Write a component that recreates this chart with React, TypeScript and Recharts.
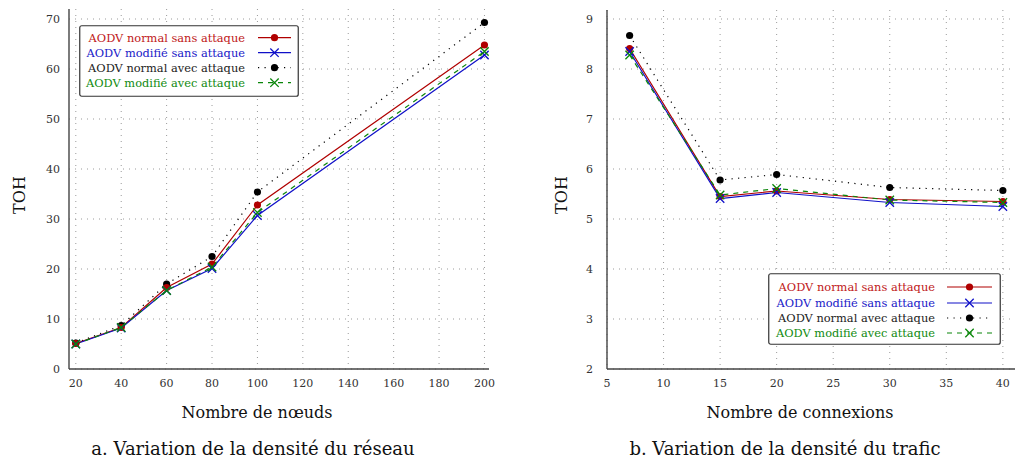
import React from 'react'
import { LineChart, Line, XAxis, YAxis, CartesianGrid, Legend } from 'recharts'

// (a) Variation de la densité du réseau
const nodes = [20, 40, 60, 80, 100, 200]
const normalSansNodes = [5.1, 8.3, 16.3, 21.0, 32.8, 64.8]
const modifieSansNodes = [5.0, 8.2, 15.7, 20.1, 30.7, 62.8]
const normalAvecNodes = [5.2, 8.7, 17.0, 22.5, 35.4, 69.3]
const modifieAvecNodes = [5.0, 8.3, 15.7, 20.4, 31.3, 63.5]

// (b) Variation de la densité du trafic
const connexions = [7, 15, 20, 30, 40]
const normalSansConn = [8.41, 5.45, 5.56, 5.39, 5.35]
const modifieSansConn = [8.35, 5.41, 5.53, 5.33, 5.25]
const normalAvecConn = [8.67, 5.78, 5.89, 5.63, 5.57]
const modifieAvecConn = [8.28, 5.48, 5.61, 5.38, 5.33]

const nodeTicks = [20, 40, 60, 80, 100, 120, 140, 160, 180, 200]
const tohTicksA = [0, 10, 20, 30, 40, 50, 60, 70]
const connTicks = [5, 10, 15, 20, 25, 30, 35, 40]
const tohTicksB = [2, 3, 4, 5, 6, 7, 8, 9]

const RED = '#b00000'
const BLUE = '#1010c8'
const GREEN = '#0a860a'
const BLACK = '#000000'

const SERIES = [
  { key: 'normalAvec', name: 'AODV normal avec attaque', color: BLACK, text: '#222', dash: '1.2 5.3', marker: 'dot' },
  { key: 'normalSans', name: 'AODV normal sans attaque', color: RED, text: '#c01818', dash: undefined, marker: 'dot' },
  { key: 'modifieSans', name: 'AODV modifié sans attaque', color: BLUE, text: '#2020c8', dash: undefined, marker: 'cross' },
  { key: 'modifieAvec', name: 'AODV modifié avec attaque', color: GREEN, text: '#108a10', dash: '5 5', marker: 'cross' },
]
const LEGEND_ORDER = ['normalSans', 'modifieSans', 'normalAvec', 'modifieAvec']

const dataA = nodes.map((x, i) => ({
  x,
  normalSans: normalSansNodes[i],
  modifieSans: modifieSansNodes[i],
  normalAvec: normalAvecNodes[i],
  modifieAvec: modifieAvecNodes[i],
}))

const dataB = connexions.map((x, i) => ({
  x,
  normalSans: normalSansConn[i],
  modifieSans: modifieSansConn[i],
  normalAvec: normalAvecConn[i],
  modifieAvec: modifieAvecConn[i],
}))

const Marker = ({ cx, cy, color, kind }: any) => {
  if (cx == null || cy == null) return null
  if (kind === 'dot') return <circle cx={cx} cy={cy} r={3.6} fill={color} stroke="none" />
  const s = 4.2
  return (
    <path
      d={`M${cx - s},${cy - s}L${cx + s},${cy + s}M${cx - s},${cy + s}L${cx + s},${cy - s}`}
      stroke={color}
      strokeWidth={1.3}
      fill="none"
    />
  )
}

const makeDot = (color: string, kind: string) => (props: any) => (
  <Marker key={`${color}-${props.index}`} cx={props.cx} cy={props.cy} color={color} kind={kind} />
)

const LegendBox = ({ w, h, rows, textRight, lineFrom, lineTo }: any) => {
  const mid = (lineFrom + lineTo) / 2
  return (
    <svg width={w} height={h} style={{ display: 'block', overflow: 'visible' }}>
      <rect x={0.75} y={0.75} width={w - 1.5} height={h - 1.5} rx={2} fill="#fff" stroke="#333" strokeWidth={1.2} />
      {LEGEND_ORDER.map((k, i) => {
        const s = SERIES.find(d => d.key === k)!
        const y = rows[i]
        return (
          <g key={k}>
            <text
              x={textRight}
              y={y + 4}
              textAnchor="end"
              fill={s.text}
              style={{ fontFamily: '"DejaVu Serif", serif', fontSize: 11.4 }}
            >
              {s.name}
            </text>
            <line x1={lineFrom} y1={y} x2={lineTo} y2={y} stroke={s.color} strokeWidth={1.2} strokeDasharray={s.dash} />
            <Marker cx={mid} cy={y} color={s.color} kind={s.marker} />
          </g>
        )
      })}
    </svg>
  )
}

const tickStyle = { fontSize: 11, fill: '#333', fontFamily: '"DejaVu Serif", serif' }
const gridStroke = '#9a9a9a'

const renderLines = () =>
  SERIES.map(s => (
    <Line
      key={s.key}
      dataKey={s.key}
      name={s.name}
      type="linear"
      stroke={s.color}
      strokeWidth={1.2}
      strokeDasharray={s.dash}
      dot={makeDot(s.color, s.marker)}
      activeDot={false}
      isAnimationActive={false}
    />
  ))

const textStyle: React.CSSProperties = {
  position: 'absolute',
  fontFamily: '"DejaVu Serif", serif',
  color: '#111',
  whiteSpace: 'nowrap',
  lineHeight: 1,
  transform: 'translate(-50%, -50%)',
}

export default function App() {
  return (
    <div style={{ position: 'fixed', left: 0, top: 0, width: 1015, height: 462, overflow: 'hidden', background: '#fff' }}>
      <div style={{ position: 'absolute', left: 0, top: 0 }}>
        <LineChart width={500} height={400} data={dataA} margin={{ top: 9, right: 11, bottom: 0, left: 0 }}>
          <CartesianGrid stroke={gridStroke} strokeDasharray="1 5" verticalValues={nodeTicks} horizontalValues={tohTicksA} />
          <XAxis
            type="number"
            dataKey="x"
            domain={[17, 202]}
            ticks={nodeTicks}
            allowDataOverflow
            height={31}
            stroke="#444"
            strokeWidth={1.4}
            tickLine={false}
            tick={tickStyle}
            tickMargin={4}
          />
          <XAxis xAxisId="top" orientation="top" type="number" dataKey="x" domain={[17, 202]} height={0} tick={false} tickLine={false} stroke="#777" strokeWidth={1.4} />
          <YAxis
            type="number"
            domain={[0, 72]}
            ticks={tohTicksA}
            allowDataOverflow
            width={69}
            stroke="#444"
            strokeWidth={1.4}
            tickLine={false}
            tick={tickStyle}
            tickMargin={3}
          />
          <YAxis yAxisId="right" orientation="right" domain={[0, 72]} width={0} tick={false} tickLine={false} stroke="#777" strokeWidth={1.4} />
          {renderLines()}
          <Legend
            layout="vertical"
            align="center"
            verticalAlign="middle"
            wrapperStyle={{ position: 'absolute', left: 79, top: 25, width: 220, height: 72 }}
            content={() => <LegendBox w={220} h={72} rows={[12.7, 27.7, 42.7, 57.7]} textRight={166} lineFrom={179} lineTo={212} />}
          />
        </LineChart>
      </div>

      <div style={{ position: 'absolute', left: 510, top: 0 }}>
        <LineChart width={507} height={400} data={dataB} margin={{ top: 10, right: 0, bottom: 0, left: 0 }}>
          <CartesianGrid stroke={gridStroke} strokeDasharray="1 5" verticalValues={connTicks} horizontalValues={tohTicksB} />
          <XAxis
            type="number"
            dataKey="x"
            domain={[5, 41.25]}
            ticks={connTicks}
            allowDataOverflow
            height={31}
            stroke="#444"
            strokeWidth={1.4}
            tickLine={false}
            tick={tickStyle}
            tickMargin={4}
          />
          <XAxis xAxisId="top" orientation="top" type="number" dataKey="x" domain={[5, 41.25]} height={0} tick={false} tickLine={false} stroke="#777" strokeWidth={1.4} />
          <YAxis
            type="number"
            domain={[2, 9.18]}
            ticks={tohTicksB}
            allowDataOverflow
            width={97}
            stroke="#444"
            strokeWidth={1.4}
            tickLine={false}
            tick={tickStyle}
            tickMargin={8}
          />
          {renderLines()}
          <Legend
            layout="vertical"
            align="center"
            verticalAlign="middle"
            wrapperStyle={{ position: 'absolute', left: 258, top: 273, width: 233, height: 72 }}
            content={() => <LegendBox w={233} h={72} rows={[14, 30, 45, 60]} textRight={167} lineFrom={179} lineTo={224} />}
          />
        </LineChart>
      </div>

      <div style={{ ...textStyle, left: 20, top: 195, fontSize: 16, transform: 'translate(-50%, -50%) rotate(-90deg)' }}>TOH</div>
      <div style={{ ...textStyle, left: 562, top: 195, fontSize: 16, transform: 'translate(-50%, -50%) rotate(-90deg)' }}>TOH</div>
      <div style={{ ...textStyle, left: 257, top: 413, fontSize: 16 }}>Nombre de nœuds</div>
      <div style={{ ...textStyle, left: 800, top: 413, fontSize: 16 }}>Nombre de connexions</div>
      <div style={{ ...textStyle, left: 253, top: 449, fontSize: 18 }}>a. Variation de la densité du réseau</div>
      <div style={{ ...textStyle, left: 785, top: 449, fontSize: 18 }}>b. Variation de la densité du trafic</div>
    </div>
  )
}
